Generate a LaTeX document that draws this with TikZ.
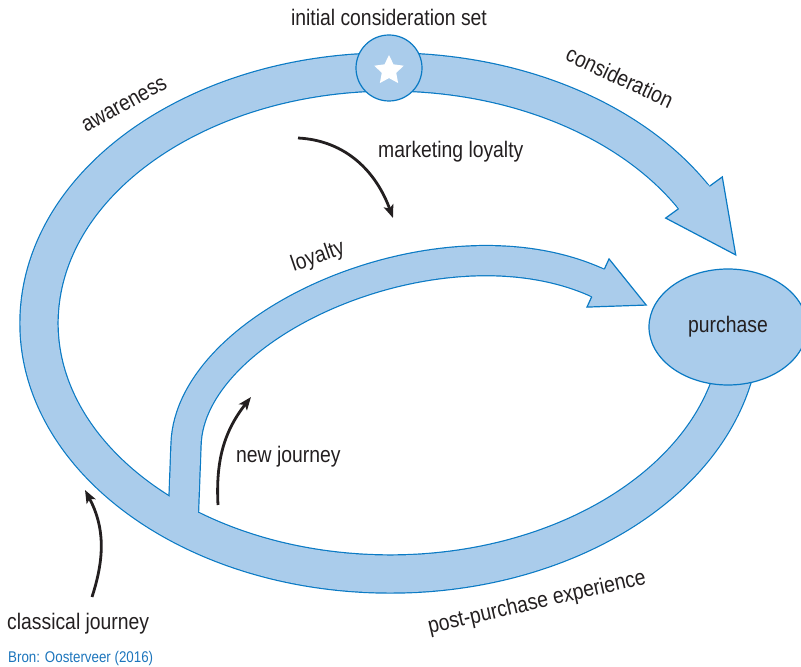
\documentclass[tikz,border=0pt]{standalone}
\usepackage{fontspec}
\setmainfont{Liberation Sans}[FakeStretch=0.86]
\usetikzlibrary{arrows.meta,shapes.geometric}
\definecolor{bandfill}{RGB}{170,204,235}
\definecolor{bandedge}{RGB}{10,122,196}
\definecolor{ink}{RGB}{35,31,32}
\definecolor{srcblue}{RGB}{28,117,188}

\begin{document}
\begin{tikzpicture}[x=1pt,y=1pt,
  lbl/.style={text=ink, font=\fontsize{22.5}{27}\selectfont, inner sep=0pt},
  srclbl/.style={text=srcblue, font=\fontsize{15.5}{18}\selectfont, inner sep=0pt},
  flow/.style={draw=ink, line width=2.8pt, -{Stealth[length=13pt,width=10pt,inset=3pt]}},
  edgeline/.style={draw=bandedge, line width=1.2pt},
  stage/.style={fill=bandfill, edgeline, inner sep=0pt}]
\useasboundingbox (0,0) rectangle (801,667);

% end points of the two journey bands
\coordinate (obeg) at (739.66,322.12);
\coordinate (oend) at (693.98,469.5);
\coordinate (ibeg) at (183,142);
\coordinate (ibend) at (186,222);
\coordinate (iend) at (598,384);

% bands: all borders first, then all fills, so that they merge
\foreach \bw/\bc/\iw in {39.4/bandedge/31.4, 37/bandfill/29} {
  \draw[draw=\bc, line width=\bw pt]
    (obeg) arc[start angle=-5, end angle=-330, x radius=351pt, y radius=251pt];
  \draw[draw=\bc, line width=\iw pt]
    (ibeg) -- (ibend) .. controls (189,345) and (443,455) .. (iend);
}

% arrowhead of the classical journey
\begin{scope}[shift={(oend)}, rotate=-54]
  \fill[bandfill] (-3,-18.5) rectangle (1,18.5);
  \filldraw[fill=bandfill, edgeline] (0,-19.1) -- (0,-35) -- (71,0) -- (0,35) -- (0,19.1);
\end{scope}

% arrowhead of the loyalty loop
\begin{scope}[shift={(iend)}, rotate=-24.6]
  \fill[bandfill] (-3,-14.4) rectangle (1,14.4);
  \filldraw[fill=bandfill, edgeline] (0,-15.1) -- (0,-26.5) -- (53,0) -- (0,26.5) -- (0,15.1);
\end{scope}

% initial consideration set marker
\node[stage, circle, minimum size=66pt] (ics) at (389,599) {};
\fill[white, shift={(389,596.5)}]
  (90:15.5) -- (126:7.6) -- (162:15.5) -- (198:7.6) -- (234:15.5) -- (270:7.6)
  -- (306:15.5) -- (342:7.6) -- (18:15.5) -- (54:7.6) -- cycle;

% purchase
\node[stage, ellipse, minimum width=158pt, minimum height=116pt, lbl] (purchase) at (728,340) {purchase};

% labels
\node[lbl, anchor=base] (icslbl) at (389,641) {initial consideration set};
\node[lbl, rotate=-25] (consid) at (620,590) {consideration};
\node[lbl, rotate=29] (aware) at (124.5,562) {awareness};
\node[lbl, anchor=base west] (mktlbl) at (378,509) {marketing loyalty};
\node[lbl, rotate=19] (loyal) at (318,410) {loyalty};
\node[lbl, anchor=base west] (newlbl) at (236,204) {new journey};
\node[lbl, anchor=base west] (classlbl) at (7,37) {classical journey};
\node[lbl, rotate=13] (postlbl) at (537,64) {post-purchase experience};
\node[srclbl, anchor=base west] (source) at (8,4) {Bron: Oosterveer (2016)};

% curved black arrows
\coordinate (mk1) at (298,529);
\coordinate (mk2) at (393,449);
\coordinate (nj1) at (218,162);
\coordinate (nj2) at (251,270);
\coordinate (cj1) at (92,70);
\coordinate (cj2) at (85,177);
\draw[flow] (mk1) to[out=-3, in=110] (mk2);
\draw[flow] (nj1) to[out=93, in=-128] (nj2);
\draw[flow] (cj1) to[out=72, in=-62] (cj2);
\end{tikzpicture}
\end{document}
